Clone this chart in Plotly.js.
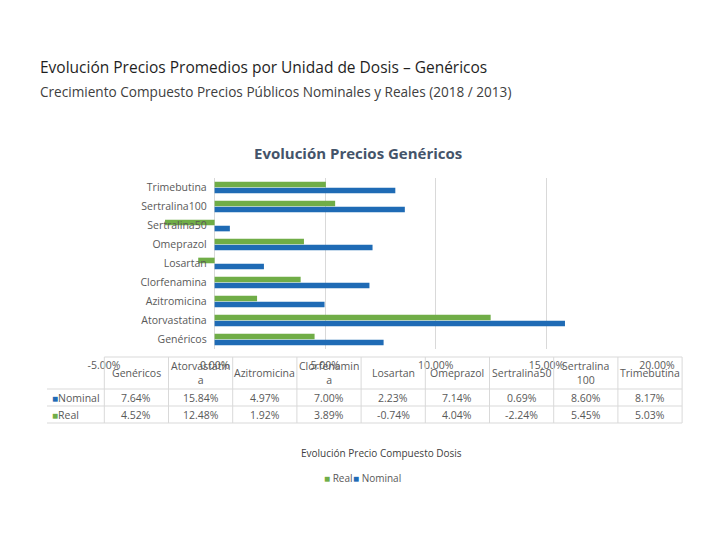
<!DOCTYPE html>
<html>
<head>
<meta charset="utf-8">
<script src="https://cdn.plot.ly/plotly-3.0.1.min.js"></script>
<style>html,body{margin:0;padding:0;background:#fff;}#chart{width:720px;height:540px;}</style>
</head>
<body>
<div id="chart"></div>
<script>
// ---- data ----
const categories = ['Genéricos','Atorvastatina','Azitromicina','Clorfenamina','Losartan','Omeprazol','Sertralina50','Sertralina100','Trimebutina'];
const tableHeaders = ['Genéricos','Atorvastatin<br>a','Azitromicina','Clorfenamin<br>a','Losartan','Omeprazol','Sertralina50','Sertralina<br>100','Trimebutina'];
const nominal = [7.64, 15.84, 4.97, 7.00, 2.23, 7.14, 0.69, 8.60, 8.17];
const real = [4.52, 12.48, 1.92, 3.89, -0.74, 4.04, -2.24, 5.45, 5.03];
const seriesNames = ['Nominal', 'Real'];
const xTickVals = [-5, 0, 5, 10, 15, 20];
const xTickText = ['-5.00%', '0.00%', '5.00%', '10.00%', '15.00%', '20.00%'];
const mainTitle = 'Evolución Precios Promedios por Unidad de Dosis – Genéricos';
const subTitle = 'Crecimiento Compuesto Precios Públicos Nominales y Reales (2018 / 2013)';
const chartTitle = 'Evolución Precios Genéricos';
const legendTitle = 'Evolución Precio Compuesto Dosis';

// ---- layout geometry ----
const W = 720, H = 540;
const L = 104, R = 657, T = 178, B = 349;
const pw = R - L, ph = B - T;
const px = v => (v - L) / pw;
const py = v => (B - v) / ph;
const BLUE = '#1F6BB5', GREEN = '#70AD47', TXT = '#595959', GRID = '#D9D9D9';
const FONT = '"Open Sans", "Noto Sans", sans-serif';

const traces = [
  {type:'bar', orientation:'h', name: seriesNames[0], y: categories, x: nominal,
   marker:{color: BLUE}, hoverinfo:'skip'},
  {type:'bar', orientation:'h', name: seriesNames[1], y: categories, x: real,
   marker:{color: GREEN}, hoverinfo:'skip'}
];

const annotations = [];
const shapes = [];
function ann(text, x, y, opts) {
  annotations.push(Object.assign({text, x: px(x), y: py(y), xref:'paper', yref:'paper',
    showarrow:false, xanchor:'center', yanchor:'middle',
    font:{family: FONT, size: 10.5, color: TXT}}, opts || {}));
}
function line(x0, y0, x1, y1) {
  shapes.push({type:'line', xref:'paper', yref:'paper', x0: px(x0), y0: py(y0), x1: px(x1), y1: py(y1),
    line:{color: GRID, width: 1}});
}
const key = (color) => '<span style="color:' + color + ';font-size:10px">■</span>';

// titles
ann(mainTitle, 38, 67, {xanchor:'left', font:{family: FONT, size: 15.5, color:'#1F1F1F'}});
ann(subTitle, 38, 91, {xanchor:'left', font:{family: FONT, size: 13.6, color:'#404040'}});
ann('<b>' + chartTitle + '</b>', 358, 153, {font:{family: FONT, size: 15, color:'#44546A'}});

// legend (compact, like the reference)
ann(legendTitle, 381, 453, {font:{family: FONT, size: 10, color:'#404040'}});
ann(key(GREEN) + ' ' + seriesNames[1], 322, 478, {xanchor:'left', font:{family: FONT, size: 10, color: TXT}});
ann(key(BLUE) + ' ' + seriesNames[0], 351, 478, {xanchor:'left', font:{family: FONT, size: 10, color: TXT}});

// data table
const tL = 47, c0 = 104.3, cw = 64.2, tTop = 357, r1 = 389, r2 = 406, r3 = 423;
const cRight = c0 + cw * categories.length;
line(c0, tTop, cRight, tTop);
[r1, r2, r3].forEach(yy => line(tL, yy, cRight, yy));
for (let i = 0; i <= categories.length; i++) line(c0 + i * cw, tTop, c0 + i * cw, r3);
tableHeaders.forEach((h, i) => ann(h, c0 + cw * (i + 0.5), 373));
nominal.forEach((v, i) => ann(v.toFixed(2) + '%', c0 + cw * (i + 0.5), 397.5));
real.forEach((v, i) => ann(v.toFixed(2) + '%', c0 + cw * (i + 0.5), 414.5));
ann(key(BLUE) + seriesNames[0], 50, 397.5, {xanchor:'left'});
ann(key(GREEN) + seriesNames[1], 50, 414.5, {xanchor:'left'});

const layout = {
  width: W, height: H,
  margin: {l: L, r: W - R, t: T, b: H - B, pad: 0},
  paper_bgcolor: '#fff', plot_bgcolor: '#fff',
  font: {family: FONT, color: TXT},
  barmode: 'group', bargap: 0.36, bargroupgap: 0.08,
  showlegend: false,
  xaxis: {range:[-5, 20], tickmode:'array', tickvals: xTickVals, ticktext: xTickText,
    showgrid: true, gridcolor: GRID, zeroline: true, zerolinecolor: GRID, zerolinewidth: 1,
    showline: false, ticks:'', ticklabelstandoff: 8, fixedrange: true,
    tickfont:{family: FONT, size: 10.5, color: TXT}},
  yaxis: {type:'category', anchor:'free', position: px(215.7), showgrid: false, zeroline: false,
    showline: false, ticks:'', ticklabelstandoff: 9, fixedrange: true,
    tickfont:{family: FONT, size: 10.5, color: TXT}},
  annotations, shapes
};
Plotly.newPlot('chart', traces, layout, {staticPlot: true, displayModeBar: false});
</script>
</body>
</html>
